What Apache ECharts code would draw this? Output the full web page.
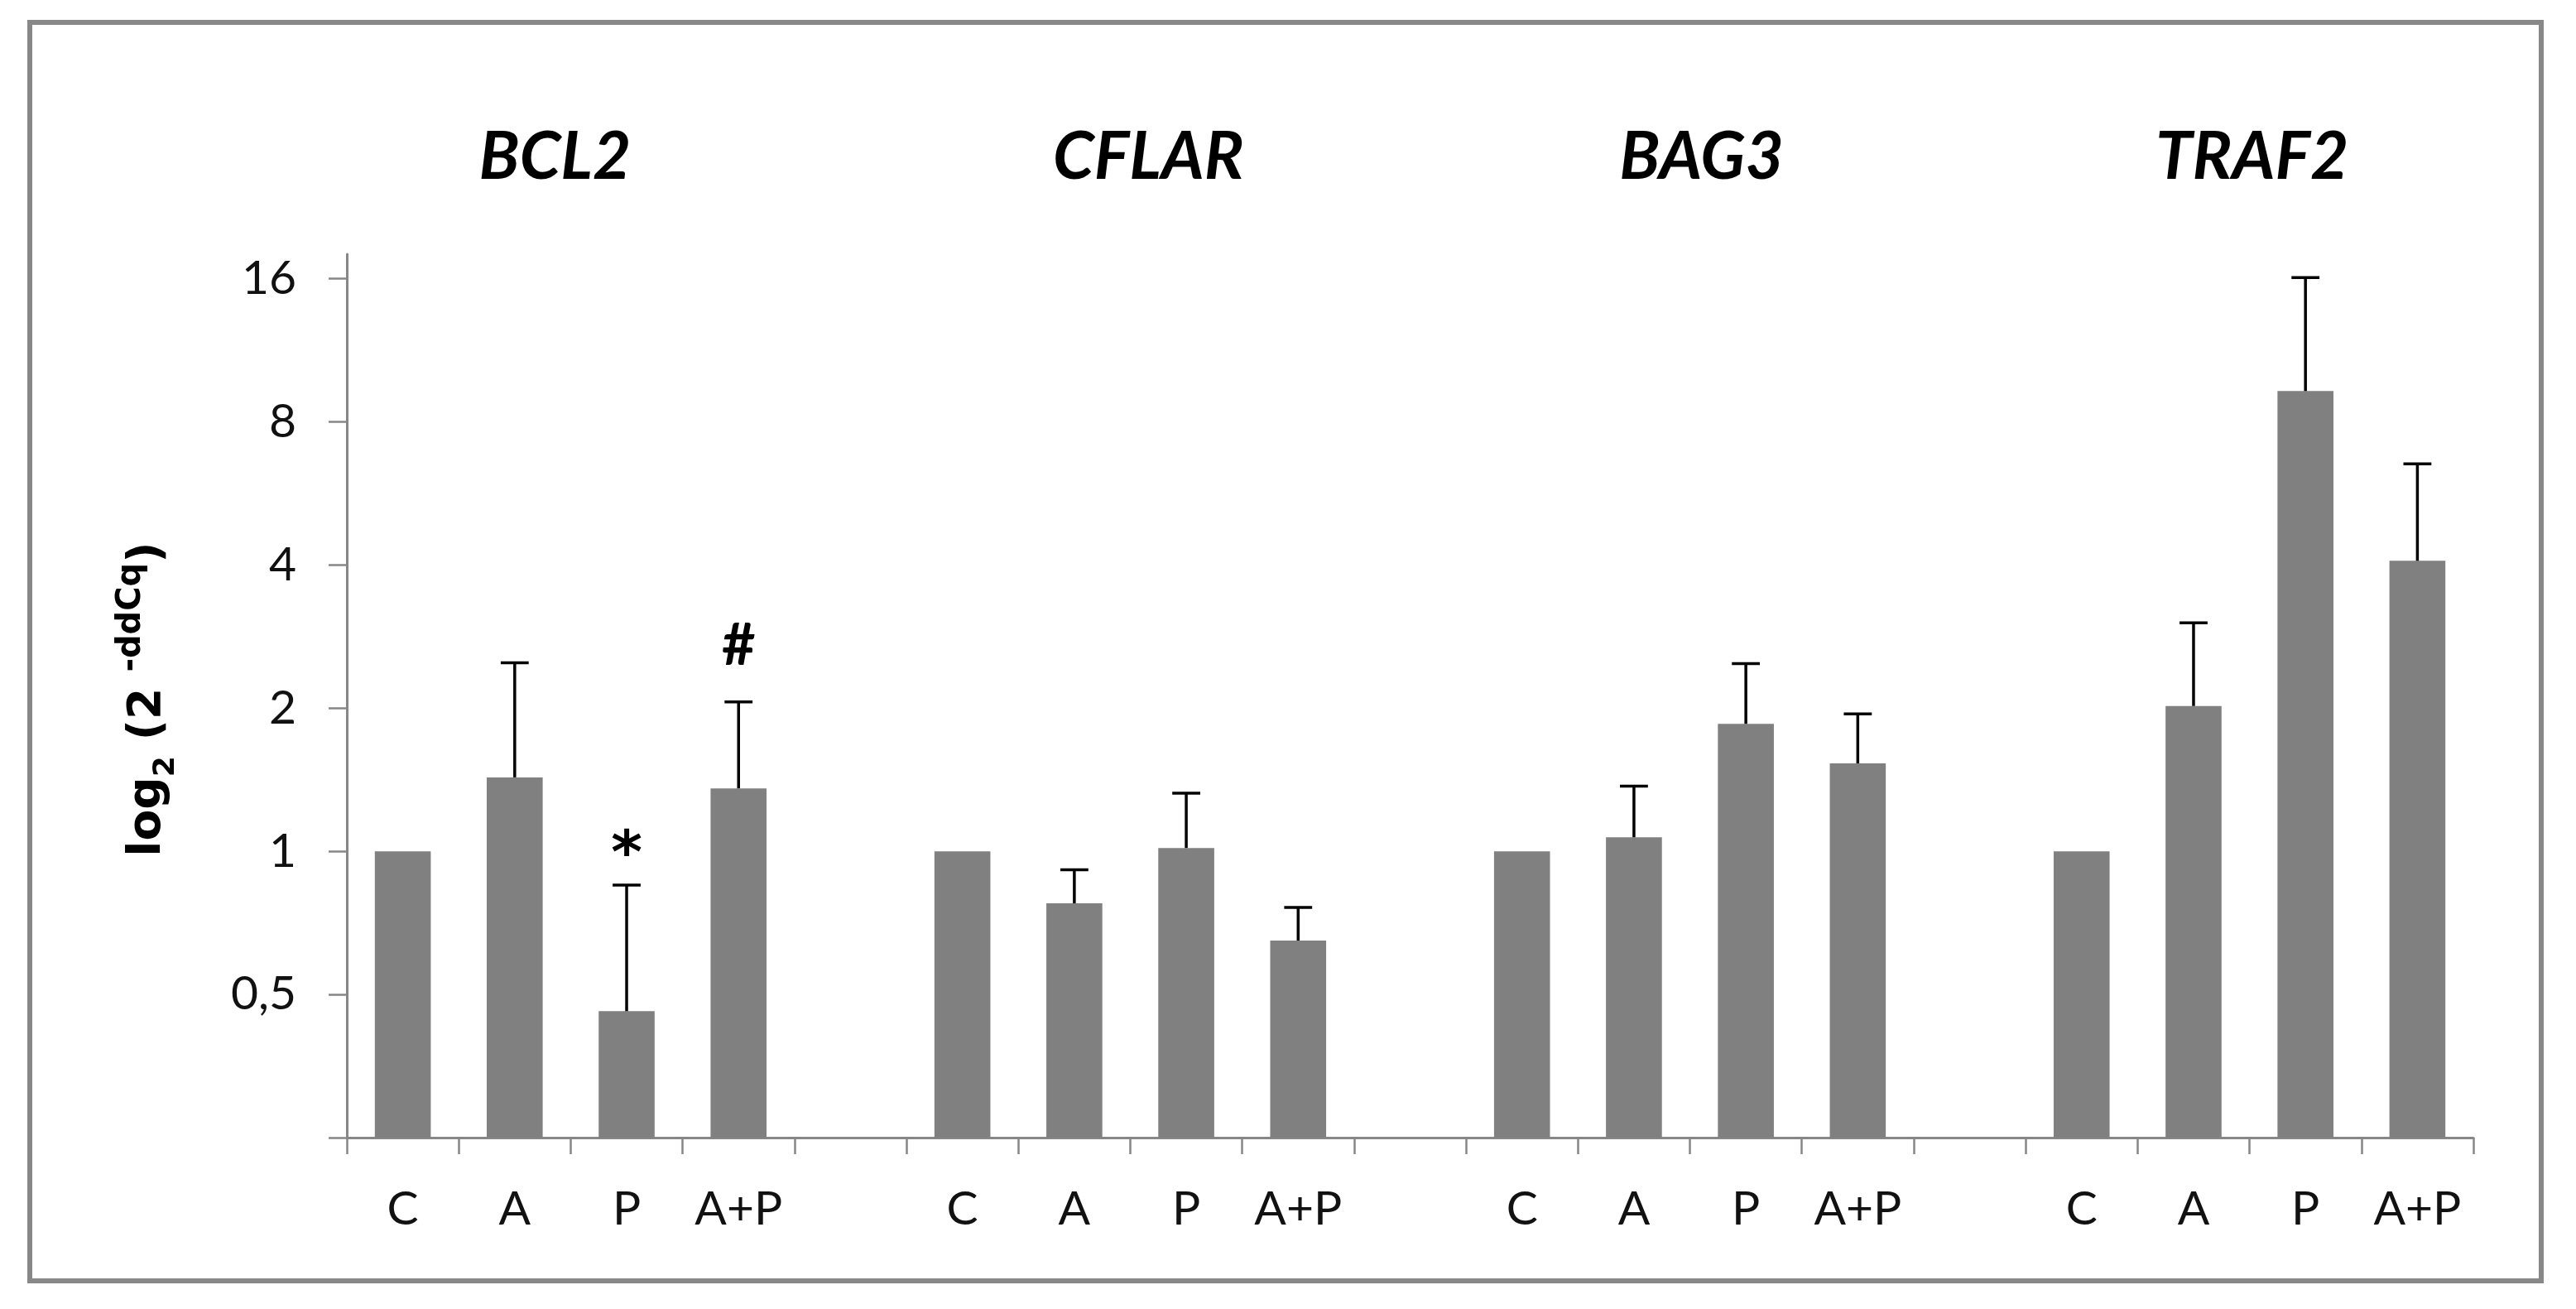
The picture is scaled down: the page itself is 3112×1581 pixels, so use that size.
<!DOCTYPE html>
<html>
<head>
<meta charset="utf-8">
<script src="https://cdn.jsdelivr.net/npm/echarts@6/dist/echarts.min.js"></script>
<style>
html,body{margin:0;padding:0;background:#fff;}
#c{width:3112px;height:1581px;}
</style>
</head>
<body>
<div id="c"></div>
<script>
// ---------------- data ----------------
const genes = ['BCL2', 'CFLAR', 'BAG3', 'TRAF2'];
const treatments = ['C', 'A', 'P', 'A+P'];

const BCL2      = [1, 1.43, 0.461, 1.356];
const BCL2_up   = [null, 2.49, 0.849, 2.06];
const CFLAR     = [1, 0.777, 1.016, 0.649];
const CFLAR_up  = [null, 0.914, 1.324, 0.762];
const BAG3      = [1, 1.07, 1.853, 1.53];
const BAG3_up   = [null, 1.37, 2.48, 1.945];
const TRAF2     = [1, 2.02, 9.28, 4.08];
const TRAF2_up  = [null, 3.02, 16.07, 6.52];

// significance marks (BCL2 group) and the value level where they sit
const BCL2_marks  = ['', '', '*', '#'];
const BCL2_markAt = [null, null, 0.97, 2.7];

const yTickValues  = [0.25, 0.5, 1, 2, 4, 8, 16];
const yLabelValues = [0.5, 1, 2, 4, 8, 16];
const yMin = 0.25;
const yMax = 18;

// ---------------- build series data ----------------
const groupValues = [BCL2, CFLAR, BAG3, TRAF2];
const groupUpper  = [BCL2_up, CFLAR_up, BAG3_up, TRAF2_up];
const groupMarks  = [BCL2_marks, null, null, null];
const groupMarkAt = [BCL2_markAt, null, null, null];

const categories = [];
const barData = [];
const errData = [];
const markData = [];
const markText = [];
const groupSlots = [];
genes.forEach((g, gi) => {
  const slots = [];
  treatments.forEach((t, ti) => {
    const idx = categories.length;
    categories.push(t);
    slots.push(idx);
    barData.push([idx, groupValues[gi][ti]]);
    if (groupUpper[gi][ti] != null) errData.push([idx, groupValues[gi][ti], groupUpper[gi][ti]]);
    if (groupMarks[gi] && groupMarks[gi][ti]) {
      markData.push([idx, groupMarkAt[gi][ti]]);
      markText.push(groupMarks[gi][ti]);
    }
  });
  groupSlots.push(slots);
  if (gi < genes.length - 1) categories.push('');
});

// ---------------- styling ----------------
const FONT = 'Lato, "Open Sans", sans-serif';
const TITLE_FONT = '"DejaVu Sans", sans-serif';
const AXIS_GREY = '#878787';
const BAR_GREY = '#808080';

const chart = echarts.init(document.getElementById('c'));

const option = {
  backgroundColor: '#ffffff',
  animation: false,
  grid: { left: 419, right: 124, top: 307, bottom: 207, outerBoundsMode: 'none', containLabel: false },
  xAxis: {
    type: 'category',
    data: categories,
    boundaryGap: true,
    axisLine: { show: true, lineStyle: { color: AXIS_GREY, width: 3 } },
    axisTick: { show: true, interval: 0, length: 20, lineStyle: { color: AXIS_GREY, width: 2.5 } },
    axisLabel: { interval: 0, margin: 58, fontSize: 57, fontFamily: FONT, color: '#111' },
    splitLine: { show: false }
  },
  yAxis: {
    type: 'log',
    logBase: 2,
    min: yMin,
    max: yMax,
    axisLine: { show: true, lineStyle: { color: AXIS_GREY, width: 3 } },
    axisTick: { show: true, length: 22, lineStyle: { color: AXIS_GREY, width: 2.5 }, customValues: yTickValues },
    axisLabel: {
      customValues: yLabelValues,
      margin: 61, fontSize: 57, fontFamily: FONT, color: '#111',
      formatter: v => String(+Number(v).toPrecision(6)).replace('.', ',')
    },
    splitLine: { show: false },
    minorTick: { show: false },
    name: '{b|log}{s|2}{b| (2 }{p|-ddCq}{b|)}',
    nameLocation: 'middle',
    nameRotate: 90,
    nameGap: 200,
    nameTextStyle: {
      padding: [0, 8, 0, 0],
      rich: {
        b: { fontSize: 55, fontWeight: 'bold', fontFamily: TITLE_FONT, color: '#000', lineHeight: 80 },
        s: { fontSize: 36, fontWeight: 'bold', fontFamily: TITLE_FONT, color: '#000', lineHeight: 36, verticalAlign: 'bottom' },
        p: { fontSize: 40, fontWeight: 'bold', fontFamily: TITLE_FONT, color: '#000', lineHeight: 40, verticalAlign: 'top' }
      }
    }
  },
  series: [
    {
      type: 'custom',
      name: 'bars',
      data: barData,
      encode: { x: 0, y: 1 },
      renderItem: (params, api) => {
        const idx = api.value(0);
        const top = api.coord([idx, api.value(1)]);
        const base = api.coord([idx, yMin]);
        const w = api.size([1, 0])[0] * 0.5;
        return {
          type: 'rect',
          shape: { x: top[0] - w / 2, y: top[1], width: w, height: base[1] - top[1] },
          style: { fill: BAR_GREY }
        };
      }
    },
    {
      type: 'custom',
      name: 'errors',
      data: errData,
      encode: { x: 0, y: [1, 2] },
      z: 3,
      renderItem: (params, api) => {
        const idx = api.value(0);
        const p0 = api.coord([idx, api.value(1)]);
        const p1 = api.coord([idx, api.value(2)]);
        const cw = api.size([1, 0])[0] * 0.25;
        const st = { stroke: '#000', lineWidth: 3.5 };
        return {
          type: 'group',
          children: [
            { type: 'line', shape: { x1: p0[0], y1: p0[1], x2: p1[0], y2: p1[1] }, style: st },
            { type: 'line', shape: { x1: p1[0] - cw / 2, y1: p1[1], x2: p1[0] + cw / 2, y2: p1[1] }, style: st }
          ]
        };
      }
    },
    {
      type: 'custom',
      name: 'marks',
      data: markData,
      encode: { x: 0, y: 1 },
      z: 4,
      renderItem: (params, api) => {
        const idx = api.value(0);
        const p = api.coord([idx, api.value(1)]);
        const t = markText[params.dataIndex];
        const font = t === '*' ? 'bold 72px "DejaVu Sans"' : 'bold 70px Lato';
        return {
          type: 'text',
          x: p[0], y: p[1],
          style: { text: t, font: font, fill: '#000', align: 'center', verticalAlign: 'middle' }
        };
      }
    }
  ],
  graphic: [
    {
      id: 'frame', type: 'rect', silent: true,
      shape: { x: 36, y: 27, width: 3034, height: 1520 },
      style: { fill: 'none', stroke: '#888888', lineWidth: 6 }
    }
  ]
};

chart.setOption(option);

// gene titles centred over each group (small manual offsets as in the original)
const titleOffsets = [-19, 22, 14, 3];
const titleY = 190;
const titleGraphics = genes.map((g, gi) => {
  const s = groupSlots[gi];
  const a = chart.convertToPixel({ xAxisIndex: 0 }, s[1]);
  const b = chart.convertToPixel({ xAxisIndex: 0 }, s[2]);
  const cx = (a + b) / 2 + titleOffsets[gi];
  return {
    id: 'title' + gi, type: 'text', silent: true,
    x: cx, y: titleY,
    style: { text: g, font: 'italic bold 80px Lato', fill: '#000', align: 'center', verticalAlign: 'middle' }
  };
});
chart.setOption({ graphic: titleGraphics });
</script>
</body>
</html>
